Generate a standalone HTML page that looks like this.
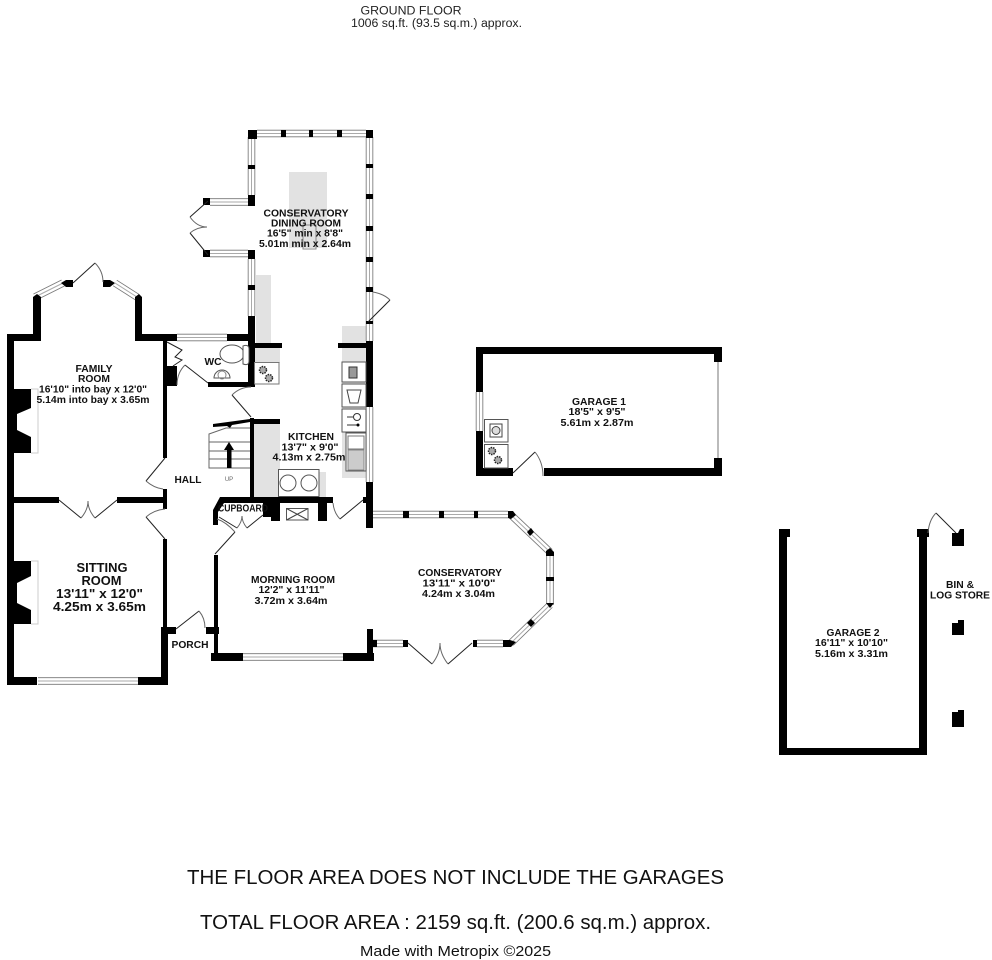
<!DOCTYPE html>
<html>
<head>
<meta charset="utf-8">
<style>
html,body{margin:0;padding:0;background:#fff;}
svg{display:block;filter:blur(0.35px);}
text{font-family:"Liberation Sans",sans-serif;fill:#111;text-anchor:middle;}
.b{font-weight:bold;font-size:10.5px;}
.s{font-weight:bold;font-size:13px;}
.t{font-size:11.5px;fill:#222;}
.l{stroke:#222;stroke-width:1;fill:none;}
.a{stroke:#666;stroke-width:1;fill:none;}
.f{stroke:#555;stroke-width:1;fill:#fff;}
</style>
</head>
<body>
<svg width="992" height="960" viewBox="0 0 992 960" xmlns="http://www.w3.org/2000/svg">
<rect width="992" height="960" fill="#fff"/>

<!-- grey worktops -->
<g fill="#e2e2e2">
<rect x="289" y="172" width="38" height="76"/>
<rect x="256" y="275" width="15" height="68"/>
<rect x="342" y="326" width="24" height="152"/>
<rect x="254" y="343" width="26" height="20"/>
<rect x="254" y="424" width="26" height="73"/>
<rect x="278" y="472" width="48" height="25"/>
</g>
<rect x="303" y="225" width="13" height="24" fill="none" stroke="#888" stroke-width="1"/>

<!-- windows -->
<path style="stroke:#777;stroke-width:7.5;fill:none" d="M257 133.500H366M251.500 137V195M251.500 259V316M369.500 137V323M369.500 323V341M369.500 407V482M210 202H248M210 253.500H248M177 337.500H227M38 681H138M243 657H343M373 514.500H508M510 514L550 552M550 555V605M550 605L511 643M373 643.500H403M477 643.500H503M35 297L63 283M115 283L137 297M479.500 392V431"/>
<path style="stroke:#fff;stroke-width:5.8;fill:none" d="M257 133.500H366M251.500 137V195M251.500 259V316M369.500 137V323M369.500 323V341M369.500 407V482M210 202H248M210 253.500H248M177 337.500H227M38 681H138M243 657H343M373 514.500H508M510 514L550 552M550 555V605M550 605L511 643M373 643.500H403M477 643.500H503M35 297L63 283M115 283L137 297M479.500 392V431"/>
<path style="stroke:#aaa;stroke-width:1;fill:none" d="M257 133.500H366M251.500 137V195M251.500 259V316M369.500 137V323M369.500 323V341M369.500 407V482M210 202H248M210 253.500H248M177 337.500H227M38 681H138M243 657H343M373 514.500H508M510 514L550 552M550 555V605M550 605L511 643M373 643.500H403M477 643.500H503M35 297L63 283M115 283L137 297M479.500 392V431"/>

<!-- black walls -->
<g fill="#000">
<polygon points="33,334 33,297 37,294 41,297 41,334"/>
<rect x="7" y="334" width="34" height="7"/>
<rect x="7" y="334" width="7" height="351"/>
<polygon points="135,297 139,294 142,297 142,334 177,334 177,341 135,341"/>
<polygon points="61,283 66,280 73,280 73,287 66,287"/>
<polygon points="103,280 110,280 115,283 110,287 103,287"/>
<rect x="163" y="341" width="4" height="117"/>
<rect x="163" y="366" width="14" height="20"/>
<rect x="14" y="497" width="45" height="6"/>
<rect x="117" y="497" width="50" height="6"/>
<rect x="163" y="489" width="4" height="20"/>
<rect x="163" y="539" width="4" height="90"/>
<rect x="161" y="627" width="15" height="7"/>
<rect x="161" y="627" width="7" height="58"/>
<rect x="7" y="677" width="30" height="8"/>
<rect x="138" y="677" width="30" height="8"/>
<polygon points="14,389 31,389 31,408 17,414 17,430 31,437 31,453 14,453"/>
<polygon points="14,561 31,561 31,576 17,583 17,603 31,610 31,624 14,624"/>
<rect x="227" y="334" width="28" height="7"/>
<rect x="248" y="316" width="7" height="71"/>
<rect x="208" y="382" width="47" height="5"/>
<rect x="250" y="343" width="32" height="5"/>
<rect x="338" y="343" width="32" height="5"/>
<rect x="250" y="419" width="30" height="5"/>
<rect x="250" y="418" width="4" height="82"/>
<rect x="366" y="341" width="7" height="66"/>
<rect x="366" y="482" width="7" height="46"/>
<polygon points="213,424 250,419 250,422 232,425 230,428 227,426 213,427"/>
<polygon points="220,497 333,497 333,503 224,503 218,512 218,525 213,525 213,510"/>
<rect x="263" y="503" width="8" height="14"/>
<rect x="271" y="503" width="9" height="18"/>
<rect x="318" y="503" width="9" height="18"/>
<rect x="363" y="497" width="4" height="6"/>
<rect x="296" y="491" width="5" height="6"/>
<rect x="214" y="555" width="4" height="106"/>
<rect x="206" y="627" width="13" height="7"/>
<rect x="211" y="653" width="32" height="8"/>
<rect x="343" y="653" width="31" height="8"/>
<rect x="367" y="629" width="6" height="32"/>
<rect x="367" y="640" width="10" height="7"/>
<rect x="403" y="511" width="6" height="7"/>
<rect x="439" y="511" width="5" height="7"/>
<rect x="474" y="511" width="4" height="7"/>
<polygon points="508,511 513,511 516,515 511,519 508,518"/>
<polygon points="527,532 531,528 534,532 530,536"/>
<polygon points="546,551 550,548 554,552 554,556 546,556"/>
<rect x="546" y="577" width="8" height="4"/>
<polygon points="546,603 554,603 550,608"/>
<polygon points="527,623 531,619 535,623 531,627"/>
<polygon points="503,640 510,640 516,642 511,647 503,647"/>
<rect x="403" y="640" width="5" height="7"/>
<rect x="473" y="640" width="4" height="7"/>
<rect x="248" y="130" width="9" height="9"/>
<rect x="366" y="130" width="7" height="8"/>
<rect x="281" y="130" width="5" height="7"/>
<rect x="309" y="130" width="4" height="7"/>
<rect x="337" y="130" width="5" height="7"/>
<rect x="248" y="165" width="7" height="4"/>
<rect x="248" y="195" width="7" height="11"/>
<rect x="248" y="250" width="7" height="9"/>
<rect x="248" y="285" width="7" height="5"/>
<rect x="203" y="198" width="7" height="7"/>
<rect x="203" y="250" width="7" height="7"/>
<rect x="366" y="164" width="7" height="4"/>
<rect x="366" y="194" width="7" height="5"/>
<rect x="366" y="226" width="7" height="5"/>
<rect x="366" y="257" width="7" height="5"/>
<rect x="366" y="287" width="7" height="5"/>
<rect x="366" y="321" width="7" height="3"/>
<rect x="476" y="347" width="246" height="7"/>
<rect x="476" y="347" width="7" height="45"/>
<rect x="476" y="431" width="7" height="45"/>
<rect x="476" y="468" width="37" height="8"/>
<rect x="544" y="468" width="178" height="8"/>
<rect x="714" y="347" width="8" height="15"/>
<rect x="714" y="458" width="8" height="18"/>
<rect x="779" y="529" width="11" height="8"/>
<rect x="779" y="529" width="8" height="226"/>
<rect x="779" y="748" width="148" height="7"/>
<rect x="919" y="536" width="8" height="219"/>
<rect x="917" y="529" width="12" height="8"/>
<polygon points="952,533 958,533 960,529 964,529 964,546 952,546"/>
<polygon points="952,623 958,623 958,620 964,620 964,635 952,635"/>
<polygon points="952,712 958,712 958,710 964,710 964,727 952,727"/>
</g>

<path d="M31 389H38V453H31M31 561H38V624H31" fill="none" stroke="#ccc" stroke-width="1"/>
<line x1="718" y1="362" x2="718" y2="458" stroke="#777" stroke-width="1"/>

<!-- doors -->
<g class="l">
<path d="M73 283L95 263"/>
<path d="M165 458L146 481"/>
<path d="M59 500L81 518M117 500L95 518"/>
<path d="M146 517L165 539"/>
<path d="M176 629L199 611"/>
<path d="M185 365L208 383"/>
<path d="M167 342L182 350L175 357L182 360L173 366"/>
<path d="M251 417L232 395"/>
<path d="M208 201L190 217M208 255L190 233"/>
<path d="M390 300L368 322"/>
<path d="M340 519L363 500"/>
<path d="M219 517L237 528M263 515L247 528"/>
<path d="M215 554L235 532"/>
<path d="M408 643L432 664M472 643L448 664"/>
<path d="M513 473L535 452"/>
<path d="M936 513L956 533"/>
</g>
<g class="a">
<path d="M373 292Q384 294 390 300"/>
<path d="M95 263Q103 271 103 282"/>
<path d="M146 481Q154 488 163 489"/>
<path d="M81 518Q88 510 88 501Q88 510 95 518"/>
<path d="M146 517Q154 510 165 509"/>
<path d="M199 611Q205 618 205 628"/>
<path d="M185 365Q177 373 177 385"/>
<path d="M232 395Q240 387 251 387"/>
<path d="M190 217Q197 227 207 227Q197 227 190 233"/>
<path d="M333 503Q334 513 340 519"/>
<path d="M237 528Q242 522 242 516Q242 522 247 528"/>
<path d="M235 532Q226 522 217 519"/>
<path d="M432 664Q440 654 440 643Q440 654 448 664"/>
<path d="M535 452Q543 462 543 476"/>
<path d="M928 533Q929 520 936 513"/>
</g>

<!-- stairs -->
<g fill="none" stroke="#666" stroke-width="1">
<path d="M250 428H226L209 434V468H250"/>
<path d="M209 442H250M209 451H250M209 459H250"/>
</g>
<rect x="227" y="449" width="4.500" height="19" fill="#000"/>
<polygon points="229,442 234,450 224,450" fill="#000"/>
<text x="229" y="481" font-size="6" style="fill:#666">UP</text>

<!-- WC fittings -->
<ellipse cx="232" cy="354" rx="12" ry="9" class="f"/>
<path d="M243 346Q249 344 249 349V361Q249 366 243 364Z" class="f"/>
<path d="M214 378A8 8 0 0 1 230 378Z" class="f"/>
<circle cx="222" cy="375" r="4" fill="none" stroke="#888"/>

<!-- hob -->
<rect x="254.500" y="362.500" width="24.500" height="21.500" fill="#fff" stroke="#777"/>
<circle cx="263" cy="370" r="3.500" fill="#aaa" stroke="#222" stroke-width="1.500" stroke-dasharray="1.500 1"/>
<circle cx="269" cy="378" r="3.500" fill="#aaa" stroke="#222" stroke-width="1.500" stroke-dasharray="1.500 1"/>

<!-- kitchen appliances -->
<g fill="#fff" stroke="#555">
<rect x="342" y="362" width="24" height="20"/>
<rect x="342" y="384" width="24" height="23"/>
<rect x="342" y="409" width="24" height="23"/>
<rect x="346" y="433" width="20" height="38"/>
<rect x="278.500" y="469.500" width="40.500" height="27"/>
<circle cx="288" cy="483" r="8"/>
<circle cx="309" cy="483" r="8"/>
<rect x="286.500" y="508.500" width="21.500" height="11.500"/>
<rect x="484.500" y="419.500" width="23.500" height="22.500"/>
<rect x="484.500" y="444.500" width="23.500" height="23.500"/>
</g>
<rect x="349" y="367" width="8" height="11" fill="#999" stroke="#333"/>
<path d="M347 390H361L358 403H350Z" fill="none" stroke="#444"/>
<circle cx="357" cy="417" r="3.500" fill="none" stroke="#333"/>
<path d="M347 417H353M347 425H358" stroke="#333" fill="none"/>
<circle cx="358" cy="425" r="1.500" fill="#000"/>
<rect x="348" y="436" width="16" height="13" fill="#fff" stroke="#777"/>
<rect x="348" y="450" width="16" height="20" fill="#ccc" stroke="#888"/>
<path d="M286.500 508.500L308 520M308 508.500L286.500 520" stroke="#444" fill="none"/>
<rect x="490" y="424" width="12" height="13" fill="#fff" stroke="#444"/>
<circle cx="496" cy="430.500" r="4" fill="#ddd" stroke="#444"/>
<circle cx="492" cy="451" r="3.500" fill="#aaa" stroke="#222" stroke-width="1.500" stroke-dasharray="1.500 1"/>
<circle cx="498" cy="460" r="3.500" fill="#aaa" stroke="#222" stroke-width="1.500" stroke-dasharray="1.500 1"/>

<!-- labels -->
<text class="t" x="411" y="14.500" textLength="101" lengthAdjust="spacingAndGlyphs">GROUND FLOOR</text>
<text class="t" x="436.500" y="27" textLength="171" lengthAdjust="spacingAndGlyphs">1006 sq.ft. (93.5 sq.m.) approx.</text>

<g class="b">
<text x="306" y="216.500" textLength="85" lengthAdjust="spacingAndGlyphs">CONSERVATORY</text>
<text x="306" y="226.500" textLength="70" lengthAdjust="spacingAndGlyphs">DINING ROOM</text>
<text x="305" y="236.500" textLength="76" lengthAdjust="spacingAndGlyphs">16'5" min x 8'8"</text>
<text x="305" y="247" textLength="92" lengthAdjust="spacingAndGlyphs">5.01m min x 2.64m</text>

<text x="94" y="372" textLength="37" lengthAdjust="spacingAndGlyphs">FAMILY</text>
<text x="94" y="382" textLength="32" lengthAdjust="spacingAndGlyphs">ROOM</text>
<text x="93" y="392.500" textLength="108" lengthAdjust="spacingAndGlyphs">16'10" into bay x 12'0"</text>
<text x="93" y="403" textLength="113" lengthAdjust="spacingAndGlyphs">5.14m into bay x 3.65m</text>

<text x="213" y="365" textLength="17" lengthAdjust="spacingAndGlyphs">WC</text>
<text x="188" y="483" textLength="27" lengthAdjust="spacingAndGlyphs">HALL</text>

<text x="311" y="440" textLength="46" lengthAdjust="spacingAndGlyphs">KITCHEN</text>
<text x="310" y="450.500" textLength="57" lengthAdjust="spacingAndGlyphs">13'7"  x 9'0"</text>
<text x="309" y="460.500" textLength="73" lengthAdjust="spacingAndGlyphs">4.13m  x 2.75m</text>

<text x="243" y="511.500" textLength="50" lengthAdjust="spacingAndGlyphs">CUPBOARD</text>
<text x="190" y="648" textLength="37" lengthAdjust="spacingAndGlyphs">PORCH</text>

<text x="293" y="583" textLength="84" lengthAdjust="spacingAndGlyphs">MORNING ROOM</text>
<text x="291.500" y="593" textLength="66" lengthAdjust="spacingAndGlyphs">12'2"  x 11'11"</text>
<text x="291" y="604" textLength="73" lengthAdjust="spacingAndGlyphs">3.72m  x 3.64m</text>

<text x="460" y="576" textLength="84" lengthAdjust="spacingAndGlyphs">CONSERVATORY</text>
<text x="459" y="586.500" textLength="73" lengthAdjust="spacingAndGlyphs">13'11"  x 10'0"</text>
<text x="458.500" y="597" textLength="73" lengthAdjust="spacingAndGlyphs">4.24m  x 3.04m</text>

<text x="599" y="405" textLength="54" lengthAdjust="spacingAndGlyphs">GARAGE 1</text>
<text x="597" y="415" textLength="57" lengthAdjust="spacingAndGlyphs">18'5"  x 9'5"</text>
<text x="597" y="426" textLength="73" lengthAdjust="spacingAndGlyphs">5.61m  x 2.87m</text>

<text x="853" y="636" textLength="53" lengthAdjust="spacingAndGlyphs">GARAGE 2</text>
<text x="851.500" y="646" textLength="73" lengthAdjust="spacingAndGlyphs">16'11"  x 10'10"</text>
<text x="851.500" y="657" textLength="73" lengthAdjust="spacingAndGlyphs">5.16m  x 3.31m</text>

<text x="960" y="588" textLength="28" lengthAdjust="spacingAndGlyphs">BIN &amp;</text>
<text x="960" y="598.500" textLength="60" lengthAdjust="spacingAndGlyphs">LOG STORE</text>
</g>

<g class="s">
<text x="102" y="572" textLength="51" lengthAdjust="spacingAndGlyphs">SITTING</text>
<text x="101.500" y="585" textLength="40" lengthAdjust="spacingAndGlyphs">ROOM</text>
<text x="99.500" y="598" textLength="87" lengthAdjust="spacingAndGlyphs">13'11"  x 12'0"</text>
<text x="99.500" y="611" textLength="93" lengthAdjust="spacingAndGlyphs">4.25m  x 3.65m</text>
</g>

<text x="455.500" y="884" font-size="20" textLength="537" lengthAdjust="spacingAndGlyphs">THE FLOOR AREA DOES NOT INCLUDE THE GARAGES</text>
<text x="455.500" y="929" font-size="20" textLength="511" lengthAdjust="spacingAndGlyphs">TOTAL FLOOR AREA : 2159 sq.ft. (200.6 sq.m.) approx.</text>
<text x="455.500" y="956" font-size="15" textLength="191" lengthAdjust="spacingAndGlyphs">Made with Metropix ©2025</text>
</svg>
</body>
</html>
